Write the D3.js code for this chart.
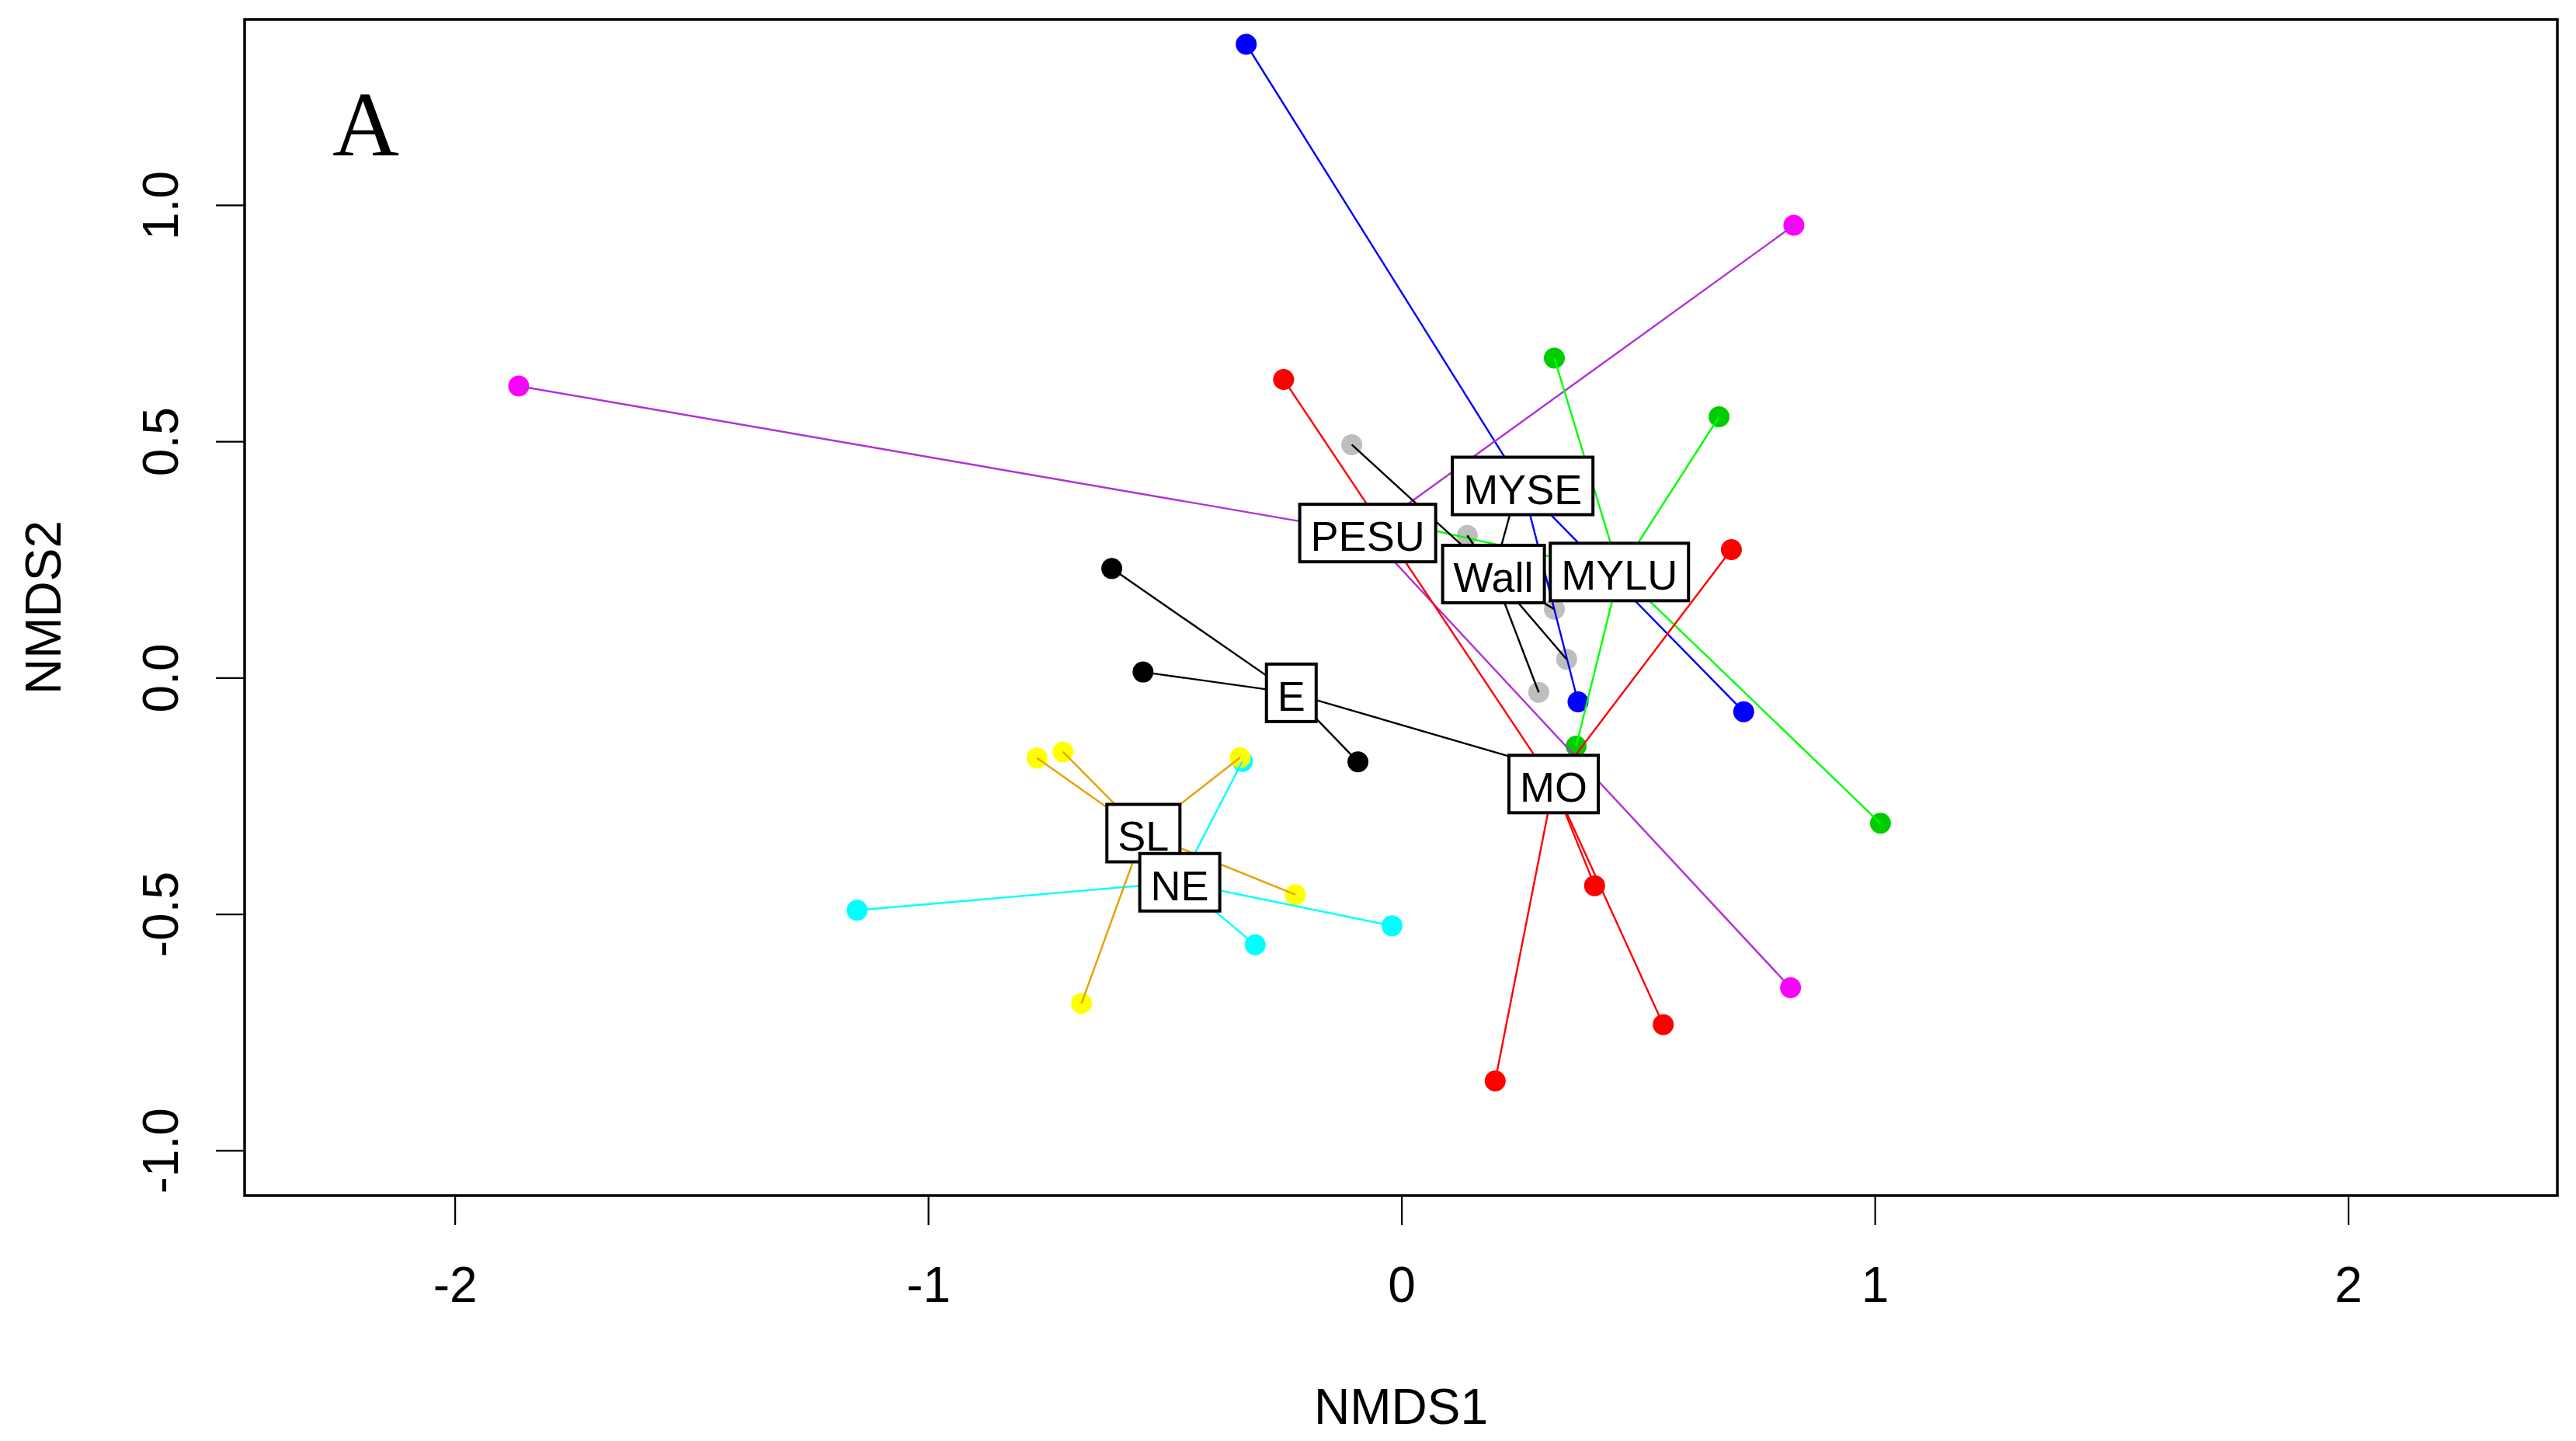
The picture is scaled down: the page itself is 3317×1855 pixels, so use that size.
<!DOCTYPE html>
<html>
<head>
    <meta charset='utf-8' />
    <title>NMDS spider plot</title>
    <style type="text/css">
        body { margin: 0; background: #fff; }
        #chart { width: 3317px; height: 1855px; }
        text { font-family: "Liberation Sans", Arial, sans-serif; fill: #000; }
        .tick line { stroke: #000; stroke-width: 2.2px; }
        .tick text { font-size: 64px; }
        .spoke { stroke-width: 2.4px; fill: none; }
        .lab rect { fill: #fff; stroke: #000; stroke-width: 4px; }
        .lab text { font-size: 54px; }
    </style>
</head>
<body>
<div id="chart"></div>

<script src="https://cdn.jsdelivr.net/npm/d3@7"></script>
<script type="text/javascript">
    // groups, drawing colours (points / spider lines)
    var groups = ["MYSE", "PESU", "MYLU", "Wall", "E", "MO", "SL", "NE"];
    var pointColors = ["#0000FF", "#FF00FF", "#00CD00", "#BEBEBE", "#000000", "#FF0000", "#FFFF00", "#00FFFF"];
    var lineColors  = ["#0000FF", "#B030D8", "#00FF00", "#000000", "#000000", "#FF0000", "#E8A000", "#00FFFF"];

    // site scores
    var siteGroup = ["MYSE", "MYSE", "MYSE",
                     "PESU", "PESU", "PESU",
                     "MYLU", "MYLU", "MYLU", "MYLU", "MYLU",
                     "Wall", "Wall", "Wall", "Wall", "Wall", "Wall", "Wall",
                     "E", "E", "E", "E",
                     "MO", "MO", "MO", "MO", "MO",
                     "NE", "NE", "NE", "NE", "NE",
                     "SL", "SL", "SL", "SL", "SL"];
    var nmds1 = [-0.328, 0.373, 0.723,
                 -1.865, 0.829, 0.822,
                 0.323, 0.671, 0.369, 1.012, -0.073,
                 -0.105, 0.139, 0.323, 0.349, 0.290, 0.118, 0.247,
                 -0.612, -0.546, -0.092, 0.319,
                 -0.249, 0.697, 0.408, 0.553, 0.198,
                 -1.150, -0.336, -0.309, -0.020, -0.527,
                 -0.770, -0.715, -0.341, -0.224, -0.676];
    var nmds2 = [1.340, -0.051, -0.072,
                 0.617, 0.957, -0.656,
                 0.676, 0.552, -0.145, -0.308, 0.343,
                 0.493, 0.301, 0.145, 0.039, -0.031, 0.178, 0.410,
                 0.231, 0.012, -0.178, -0.193,
                 0.631, 0.271, -0.440, -0.734, -0.853,
                 -0.492, -0.177, -0.565, -0.525, -0.405,
                 -0.170, -0.157, -0.169, -0.459, -0.689];

    var xTicks = [-2, -1, 0, 1, 2];
    var xTickLabels = ["-2", "-1", "0", "1", "2"];
    var yTicks = [-1.0, -0.5, 0.0, 0.5, 1.0];
    var yTickLabels = ["-1.0", "-0.5", "0.0", "0.5", "1.0"];

    var margin = {top: 25, right: 24, bottom: 316, left: 315},
        width = 3317,
        height = 1855,
        chartWidth = width - margin.left - margin.right,
        chartHeight = height - margin.top - margin.bottom;

    var svg = d3.select("#chart").append("svg")
        .attr("width", width)
        .attr("height", height);

    var x = d3.scaleLinear().domain([-2.444, 2.442]).range([0, chartWidth]);
    var y = d3.scaleLinear().domain([-1.0955, 1.3926]).range([chartHeight, 0]);

    var color = d3.scaleOrdinal().domain(groups).range(pointColors);
    var lineColor = d3.scaleOrdinal().domain(groups).range(lineColors);

    var g = svg.append("g")
        .attr("transform", "translate(" + margin.left + "," + margin.top + ")");

    var sites = nmds1.map(function(d, i) {
        return {group: siteGroup[i], x: d, y: nmds2[i]};
    });

    // group centroids (spider centres, label positions)
    var centres = groups.map(function(gr) {
        var s = sites.filter(function(d) { return d.group === gr; });
        return {
            group: gr,
            x: d3.mean(s, function(d) { return d.x; }),
            y: d3.mean(s, function(d) { return d.y; })
        };
    });
    var centreOf = {};
    centres.forEach(function(c) { centreOf[c.group] = c; });

    // axes
    g.append("g")
        .attr("class", "x axis")
        .attr("transform", "translate(0," + chartHeight + ")")
        .call(d3.axisBottom(x).tickValues(xTicks).tickFormat(function(d, i) { return xTickLabels[i]; }).tickSize(38).tickPadding(54))
        .call(function(a) { a.select(".domain").remove(); });

    var yAxis = g.append("g")
        .attr("class", "y axis")
        .call(d3.axisLeft(y).tickValues(yTicks).tickFormat(function(d, i) { return yTickLabels[i]; }).tickSize(37));
    yAxis.select(".domain").remove();
    yAxis.selectAll(".tick text")
        .attr("x", 0)
        .attr("dy", null)
        .attr("text-anchor", "middle")
        .attr("transform", "translate(-86,0) rotate(-90)");

    g.append("text")
        .attr("x", chartWidth / 2)
        .attr("y", 1833 - margin.top)
        .attr("text-anchor", "middle")
        .style("font-size", "64px")
        .text("NMDS1");

    g.append("text")
        .attr("text-anchor", "middle")
        .attr("transform", "translate(" + (78 - margin.left) + "," + (chartHeight / 2) + ") rotate(-90)")
        .style("font-size", "64px")
        .text("NMDS2");

    // points
    g.selectAll(".site")
        .data(sites)
      .enter().append("circle")
        .attr("class", "site")
        .attr("cx", function(d) { return x(d.x); })
        .attr("cy", function(d) { return y(d.y); })
        .attr("r", 13.5)
        .attr("fill", function(d) { return color(d.group); });

    // spider lines
    g.selectAll(".spoke")
        .data(sites)
      .enter().append("line")
        .attr("class", "spoke")
        .attr("x1", function(d) { return x(centreOf[d.group].x); })
        .attr("y1", function(d) { return y(centreOf[d.group].y); })
        .attr("x2", function(d) { return x(d.x); })
        .attr("y2", function(d) { return y(d.y); })
        .attr("stroke", function(d) { return lineColor(d.group); });

    // boxed labels at the centroids
    var lab = g.selectAll(".lab")
        .data(centres)
      .enter().append("g")
        .attr("class", "lab")
        .attr("transform", function(d) { return "translate(" + x(d.x) + "," + y(d.y) + ")"; });

    lab.append("rect");
    lab.append("text")
        .attr("text-anchor", "middle")
        .attr("y", 23)
        .text(function(d) { return d.group; });
    lab.each(function() {
        var el = d3.select(this);
        var w = el.select("text").node().getComputedTextLength() + 28;
        el.select("rect")
            .attr("x", -w / 2)
            .attr("y", -37)
            .attr("width", w)
            .attr("height", 74);
    });

    // frame
    g.append("rect")
        .attr("width", chartWidth)
        .attr("height", chartHeight)
        .attr("fill", "none")
        .attr("stroke", "#000")
        .attr("stroke-width", 3.5);

    // panel letter
    g.append("text")
        .attr("x", 471 - margin.left)
        .attr("y", 200 - margin.top)
        .attr("text-anchor", "middle")
        .style("font-family", "'Liberation Serif', 'Times New Roman', serif")
        .style("font-size", "119px")
        .text("A");
</script>
</body>
</html>
